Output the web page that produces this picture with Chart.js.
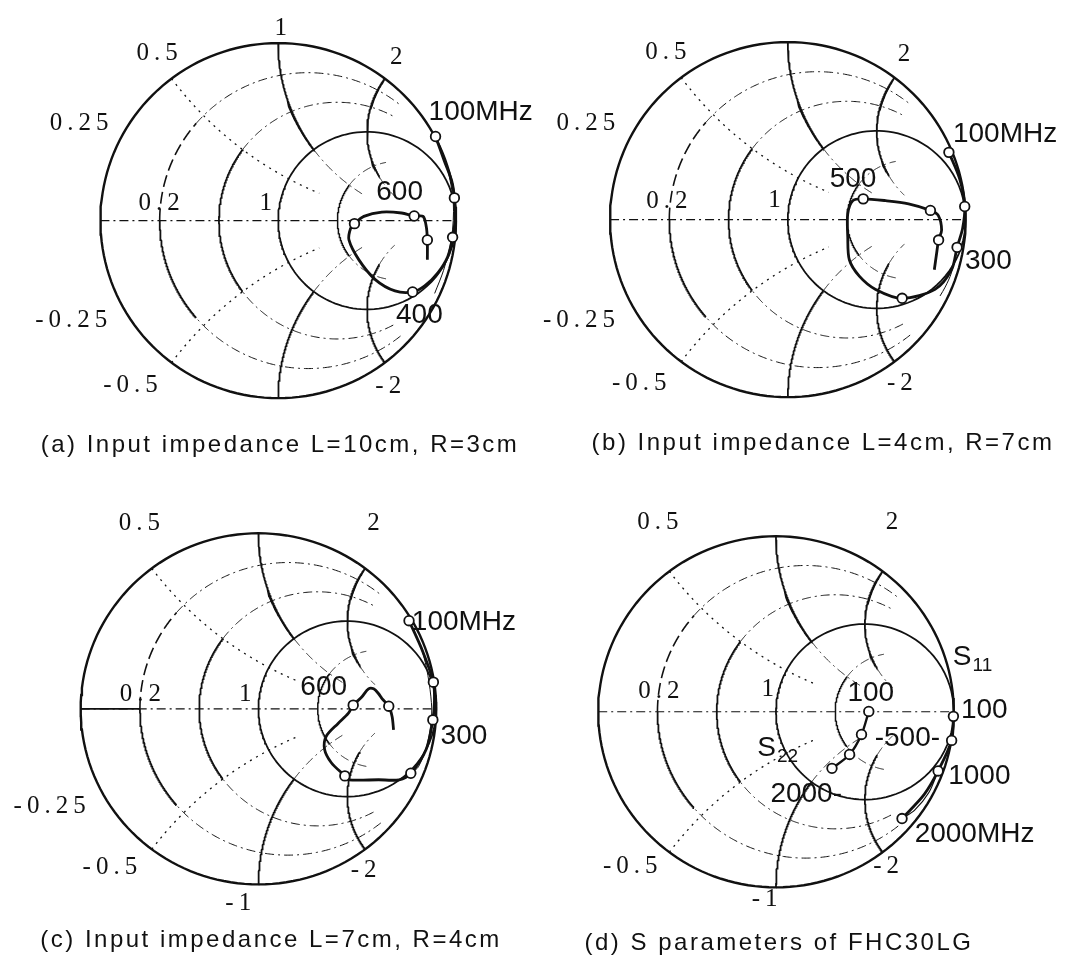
<!DOCTYPE html>
<html lang="en">
<head>
<meta charset="UTF-8">
<title>Smith charts</title>
<script src="https://cdn.jsdelivr.net/npm/chart.js"></script>
<style>
  body { margin: 0; background: #fff; overflow: hidden; }
  #wrap { position: relative; width: 1069px; height: 963px; }
  canvas { position: absolute; left: 0; top: 0; }
</style>
</head>
<body>
<div id="wrap"><canvas id="smith" width="1069" height="963"></canvas></div>
<script>
// reflection coefficient (re, im)

// (a) L=10cm, R=3cm : traced locus and frequency marks (100..700MHz)
const aRe = [0.885, 0.935, 0.976, 0.991, 0.994, 0.981, 0.954, 0.898, 0.824, 0.756, 0.657, 0.546, 0.454, 0.398, 0.407, 0.429, 0.482, 0.583, 0.694, 0.765, 0.815, 0.833, 0.839, 0.839];
const aIm = [0.474, 0.335, 0.224, 0.128, 0.002, -0.094, -0.202, -0.294, -0.368, -0.402, -0.396, -0.332, -0.221, -0.109, -0.044, -0.017, 0.024, 0.048, 0.043, 0.026, 0.024, -0.035, -0.109, -0.221];
const aMarkRe = [0.885, 0.991, 0.981, 0.756, 0.429, 0.765, 0.839];
const aMarkIm = [0.474, 0.128, -0.094, -0.402, -0.017, 0.026, -0.109];
const aThinRe = [0.885, 0.95, 0.985, 0.975, 0.93, 0.88];
const aThinIm = [0.474, 0.3, 0.1, -0.1, -0.28, -0.41];

// (b) L=4cm, R=7cm
const bRe = [0.906, 0.967, 0.995, 0.983, 0.952, 0.921, 0.828, 0.643, 0.494, 0.402, 0.346, 0.337, 0.337, 0.365, 0.424, 0.55, 0.679, 0.802, 0.846, 0.865, 0.848, 0.837, 0.824];
const bIm = [0.379, 0.228, 0.074, -0.05, -0.156, -0.282, -0.393, -0.443, -0.393, -0.318, -0.226, -0.096, 0.033, 0.107, 0.117, 0.107, 0.089, 0.052, 0.024, -0.059, -0.115, -0.189, -0.282];
const bMarkRe = [0.906, 0.995, 0.952, 0.643, 0.424, 0.802, 0.848];
const bMarkIm = [0.379, 0.074, -0.156, -0.443, 0.117, 0.052, -0.115];
const bThinRe = [0.952, 0.92, 0.885, 0.856];
const bThinIm = [-0.156, -0.3, -0.38, -0.43];

// (c) L=7cm, R=4cm
const cRe = [0.847, 0.923, 0.984, 0.99, 0.981, 0.943, 0.857, 0.791, 0.676, 0.505, 0.486, 0.41, 0.372, 0.381, 0.448, 0.505, 0.533, 0.581, 0.619, 0.648, 0.676, 0.695, 0.733, 0.752, 0.76];
const cIm = [0.502, 0.33, 0.152, 0.049, -0.063, -0.232, -0.367, -0.404, -0.404, -0.404, -0.382, -0.307, -0.232, -0.157, -0.083, -0.026, 0.021, 0.067, 0.114, 0.114, 0.086, 0.058, 0.015, -0.045, -0.12];
const cMarkRe = [0.847, 0.984, 0.981, 0.857, 0.486, 0.533, 0.733];
const cMarkIm = [0.502, 0.152, -0.063, -0.367, -0.382, 0.021, 0.015];
const cThinRe = [0.847, 0.93, 0.975, 0.95, 0.9, 0.857];
const cThinIm = [0.502, 0.3, 0.0, -0.2, -0.33, -0.367];

// (d) FHC30LG, S11 and S22 at 100, 500, 1000, 2000 MHz
const s11Re = [0.998, 0.988, 0.912, 0.833, 0.709];
const s11Im = [-0.026, -0.163, -0.337, -0.472, -0.608];
const s11MarkRe = [0.998, 0.988, 0.912, 0.709];
const s11MarkIm = [-0.026, -0.163, -0.337, -0.608];
const s11ThinRe = [0.912, 0.86, 0.78, 0.709];
const s11ThinIm = [-0.337, -0.46, -0.56, -0.608];
const s22Re = [0.522, 0.481, 0.414, 0.315];
const s22Im = [0.002, -0.129, -0.243, -0.322];

// layout of the four panels (pixel centre and radius of the unit circle)
const panels = [
  { id: 'a', cx: 275, cy: 217, rx: 180, ry: 180,
    ticks: [['1', 0.017, 1.083], ['0.5', -0.678, 0.939], ['2', 0.667, 0.917], ['0.25', -1.117, 0.55],
            ['0.2', -0.667, 0.094], ['1', -0.067, 0.094], ['-0.25', -1.161, -0.561], ['-0.5', -0.828, -0.928], ['-2', 0.622, -0.933]],
    notes: [['100MHz', 1.139, 0.611], ['600', 0.683, 0.161], ['400', 0.794, -0.533]],
    caption: ['(a) Input impedance L=10cm, R=3cm', 280, 445] },
  { id: 'b', cx: 791, cy: 216, rx: 180, ry: 180,
    ticks: [['0.5', -0.683, 0.944], ['2', 0.656, 0.933], ['0.25', -1.133, 0.544], ['0.2', -0.678, 0.1],
            ['1', -0.072, 0.106], ['-0.25', -1.172, -0.567], ['-0.5', -0.833, -0.922], ['-2', 0.633, -0.922]],
    notes: [['500', 0.367, 0.228], ['100MHz', 1.222, 0.483], ['300', 1.128, -0.233]],
    caption: ['(b) Input impedance L=4cm, R=7cm', 823, 443] },
  { id: 'c', cx: 255, cy: 712, rx: 180, ry: 178,
    ticks: [['0.5', -0.667, 1.056], ['2', 0.65, 1.056], ['0.2', -0.661, 0.083], ['1', -0.072, 0.083],
            ['-0.25', -1.172, -0.556], ['-0.5', -0.833, -0.906], ['-2', 0.594, -0.922], ['-1', -0.111, -1.111]],
    notes: [['600', 0.367, 0.122], ['100MHz', 1.156, 0.494], ['300', 1.156, -0.156]],
    axisStub: true,
    caption: ['(c) Input impedance L=7cm, R=4cm', 271, 940] },
  { id: 'd', cx: 779, cy: 715, rx: 180, ry: 178,
    ticks: [['0.5', -0.661, 1.078], ['2', 0.656, 1.078], ['0.2', -0.656, 0.117], ['1', -0.044, 0.128],
            ['-0.5', -0.817, -0.883], ['-2', 0.622, -0.883], ['-1', -0.061, -1.067]],
    notes: [['100', 0.533, 0.106], ['100', 1.172, 0.011], ['-500-', 0.739, -0.15], ['1000', 1.144, -0.367],
            ['2000-', 0.17, -0.467], ['2000MHz', 1.117, -0.7]],
    subs: [['S', '11', 1.10, 0.311], ['S', '22', 0.0, -0.206]],
    caption: ['(d) S parameters of FHC30LG', 779, 943] }
];

const W = 1069, H = 963;
const INK = '#111';
const DASHDOT = [9, 4, 2, 4];
const DOTTED = [2, 5];
const LONGDASH = [12, 5];

function gam(r, x) {
  const den = (r + 1) * (r + 1) + x * x;
  return { x: (r * r + x * x - 1) / den, y: 2 * x / den };
}
// constant resistance circle, reactance from t0 to t1
function rCurve(r, t0, t1) {
  const a0 = Math.atan(t0), a1 = Math.atan(t1), pts = [];
  for (let i = 0; i <= 160; i++) pts.push(gam(r, Math.tan(a0 + (a1 - a0) * i / 160)));
  return pts;
}
// constant reactance arc, resistance from s0 to s1
function xCurve(x, s0, s1) {
  const a0 = Math.atan(s0), a1 = Math.atan(s1), pts = [];
  for (let i = 0; i <= 160; i++) pts.push(gam(Math.tan(a0 + (a1 - a0) * i / 160), x));
  return pts;
}
const INF = Infinity;
const gridParts = [
  [rCurve(0, -INF, INF), [], 2.4],
  [[{ x: -1, y: 0 }, { x: 1, y: 0 }], DASHDOT, 1.1],
  [rCurve(0.2, -0.45, 0), [], 1.8],
  [rCurve(0.2, 0, 0.45), LONGDASH, 1.6],
  [rCurve(0.2, 0.45, 2.5), DASHDOT, 1.0],
  [rCurve(0.2, -2.5, -0.45), DASHDOT, 1.0],
  [rCurve(0.5, -0.5, 0.5), [], 1.8],
  [rCurve(0.5, 0.5, 2.5), DASHDOT, 1.0],
  [rCurve(0.5, -2.5, -0.5), DASHDOT, 1.0],
  [rCurve(1, -INF, INF), [], 1.8],
  [rCurve(2, -1, 1), [], 1.5],
  [rCurve(2, 1, 2.5), DASHDOT, 1.0],
  [rCurve(2, -2.5, -1), DASHDOT, 1.0],
  [xCurve(1, 0, 1), [], 1.8],
  [xCurve(-1, 0, 1), [], 1.8],
  [xCurve(1, 1, 2.5), DASHDOT, 1.0],
  [xCurve(-1, 1, 2.5), DASHDOT, 1.0],
  [xCurve(2, 0, 2.5), [], 1.8],
  [xCurve(-2, 0, 2.5), [], 1.8],
  [xCurve(2, 2.5, 4), DASHDOT, 1.0],
  [xCurve(-2, 2.5, 4), DASHDOT, 1.0],
  [xCurve(0.5, 0, 1.5), DOTTED, 1.3],
  [xCurve(-0.5, 0, 1.5), DOTTED, 1.3]
];

function pts(re, im) { return re.map((v, i) => ({ x: v, y: im[i] })); }

const series = {
  a: [[pts(aRe, aIm), 2.8], [pts(aThinRe, aThinIm), 1.0], [pts(aMarkRe, aMarkIm), 'mark']],
  b: [[pts(bRe, bIm), 2.8], [pts(bThinRe, bThinIm), 1.0], [pts(bMarkRe, bMarkIm), 'mark']],
  c: [[pts(cRe, cIm), 2.8], [pts(cThinRe, cThinIm), 1.0], [pts(cMarkRe, cMarkIm), 'mark']],
  d: [[pts(s11Re, s11Im), 2.8], [pts(s11ThinRe, s11ThinIm), 1.2], [pts(s11MarkRe, s11MarkIm), 'mark'],
      [pts(s22Re, s22Im), 2.4], [pts(s22Re, s22Im), 'mark']]
};

const datasets = [];
const scales = {};
panels.forEach(p => {
  const xId = 'x' + p.id, yId = 'y' + p.id;
  scales[xId] = { type: 'linear', display: false, min: -p.cx / p.rx, max: (W - p.cx) / p.rx };
  scales[yId] = { type: 'linear', display: false, min: -(H - p.cy) / p.ry, max: p.cy / p.ry };
  const parts = p.axisStub ? gridParts.concat([[[{ x: -1, y: 0 }, { x: -0.667, y: 0 }], [], 1.8]]) : gridParts;
  parts.forEach(g => datasets.push({
    data: g[0], xAxisID: xId, yAxisID: yId, showLine: true, pointRadius: 0,
    borderColor: INK, borderWidth: g[2], borderDash: g[1], tension: 0, order: 10
  }));
  series[p.id].forEach(s => {
    if (s[1] === 'mark') {
      datasets.push({ data: s[0], xAxisID: xId, yAxisID: yId, showLine: false, pointRadius: 4.8,
        pointBackgroundColor: '#fff', pointBorderColor: INK, pointBorderWidth: 1.8, order: 0 });
    } else {
      datasets.push({ data: s[0], xAxisID: xId, yAxisID: yId, showLine: true, pointRadius: 0,
        borderColor: INK, borderWidth: s[1], tension: 0.3, order: 1 });
    }
  });
});

const textPlugin = {
  id: 'smithText',
  afterDatasetsDraw(chart) {
    const ctx = chart.ctx;
    ctx.save();
    ctx.fillStyle = INK;
    ctx.textAlign = 'center';
    ctx.textBaseline = 'middle';
    panels.forEach(p => {
      const xs = chart.scales['x' + p.id], ys = chart.scales['y' + p.id];
      ctx.font = '25px "Liberation Serif", "DejaVu Serif", serif';
      ctx.letterSpacing = '5px';
      p.ticks.forEach(t => ctx.fillText(t[0], xs.getPixelForValue(t[1]) + 2, ys.getPixelForValue(t[2])));
      ctx.font = '28px "Liberation Sans", Arial, sans-serif';
      ctx.letterSpacing = '0px';
      p.notes.forEach(t => ctx.fillText(t[0], xs.getPixelForValue(t[1]), ys.getPixelForValue(t[2])));
      (p.subs || []).forEach(t => {
        const x = xs.getPixelForValue(t[2]), y = ys.getPixelForValue(t[3]);
        ctx.font = '28px "Liberation Sans", Arial, sans-serif';
        ctx.textAlign = 'right';
        ctx.fillText(t[0], x, y);
        ctx.font = '19px "Liberation Sans", Arial, sans-serif';
        ctx.textAlign = 'left';
        ctx.fillText(t[1], x + 1, y + 9);
        ctx.textAlign = 'center';
      });
      ctx.font = '24px "Liberation Sans", Arial, sans-serif';
      ctx.letterSpacing = '2.5px';
      ctx.fillText(p.caption[0], p.caption[1], p.caption[2]);
    });
    ctx.restore();
  }
};

new Chart(document.getElementById('smith').getContext('2d'), {
  type: 'scatter',
  data: { datasets },
  options: {
    responsive: false,
    devicePixelRatio: 1,
    animation: false,
    layout: { padding: 0 },
    scales,
    plugins: { legend: { display: false }, tooltip: { enabled: false } }
  },
  plugins: [textPlugin]
});
</script>
</body>
</html>
